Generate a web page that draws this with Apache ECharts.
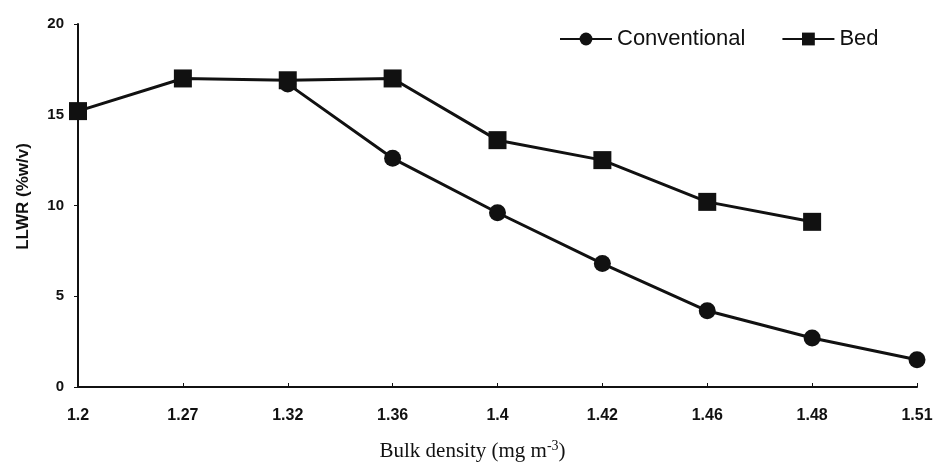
<!DOCTYPE html>
<html>
<head>
<meta charset="utf-8">
<script src="https://cdn.jsdelivr.net/npm/echarts@6/dist/echarts.min.js"></script>
<style>
  html, body { margin: 0; padding: 0; background: #fff; }
  #chart { width: 936px; height: 463px; }
</style>
</head>
<body>
<div id="chart"></div>
<script>
var densities = ['1.2', '1.27', '1.32', '1.36', '1.4', '1.42', '1.46', '1.48', '1.51']
var conventional = [null, null, 16.7, 12.6, 9.6, 6.8, 4.2, 2.7, 1.5]
var bed = [15.2, 17.0, 16.9, 17.0, 13.6, 12.5, 10.2, 9.1, null]

var chart = echarts.init(document.getElementById('chart'))

var option = {
  animation: false,
  backgroundColor: '#fff',
  grid: {
    left: 78,
    right: 19,
    top: 24,
    bottom: 76,
    outerBoundsMode: 'none'
  },
  legend: {
    left: 554,
    top: 23,
    itemWidth: 52,
    itemHeight: 16,
    itemGap: 36,
    textStyle: {
      fontFamily: 'Liberation Sans, Arial',
      fontSize: 22,
      color: '#111'
    },
    data: ['Conventional', 'Bed']
  },
  xAxis: {
    type: 'category',
    data: densities,
    boundaryGap: false,
    name: '{a|Bulk density (mg m}{s|-3}{a|)}',
    nameLocation: 'middle',
    nameGap: 52,
    nameTextStyle: {
      padding: [0, 50, 0, 0],
      rich: {
        a: { fontFamily: 'Liberation Serif, Times New Roman', fontSize: 21, color: '#111' },
        s: { fontFamily: 'Liberation Serif, Times New Roman', fontSize: 14, color: '#111', verticalAlign: 'top', padding: [0, 0, 10, 0] }
      }
    },
    axisLine: { lineStyle: { color: '#111', width: 2 } },
    axisTick: { show: true, inside: true, length: 4, lineStyle: { color: '#111' } },
    axisLabel: {
      margin: 21,
      fontFamily: 'Liberation Sans, Arial',
      fontWeight: 'bold',
      fontSize: 16,
      color: '#111'
    },
    splitLine: { show: false }
  },
  yAxis: {
    type: 'value',
    min: 0,
    max: 20,
    interval: 5,
    name: 'LLWR (%w/v)',
    nameLocation: 'middle',
    nameGap: 46,
    nameTextStyle: {
      padding: [0, 0, 0, 18],
      fontFamily: 'Liberation Sans, Arial',
      fontWeight: 'bold',
      fontSize: 17,
      color: '#111'
    },
    axisLine: { show: true, lineStyle: { color: '#111', width: 2 } },
    axisTick: { show: true, length: 4, lineStyle: { color: '#111' } },
    axisLabel: {
      margin: 14,
      fontFamily: 'Liberation Sans, Arial',
      fontWeight: 'bold',
      fontSize: 15,
      color: '#111'
    },
    splitLine: { show: false }
  },
  series: [
    {
      name: 'Conventional',
      type: 'line',
      data: conventional,
      symbol: 'circle',
      symbolSize: 17,
      z: 2,
      itemStyle: { color: '#111' },
      lineStyle: { color: '#111', width: 3 }
    },
    {
      name: 'Bed',
      type: 'line',
      data: bed,
      symbol: 'rect',
      symbolSize: 18,
      z: 3,
      itemStyle: { color: '#111' },
      lineStyle: { color: '#111', width: 3 }
    }
  ]
}

chart.setOption(option)
</script>
</body>
</html>
